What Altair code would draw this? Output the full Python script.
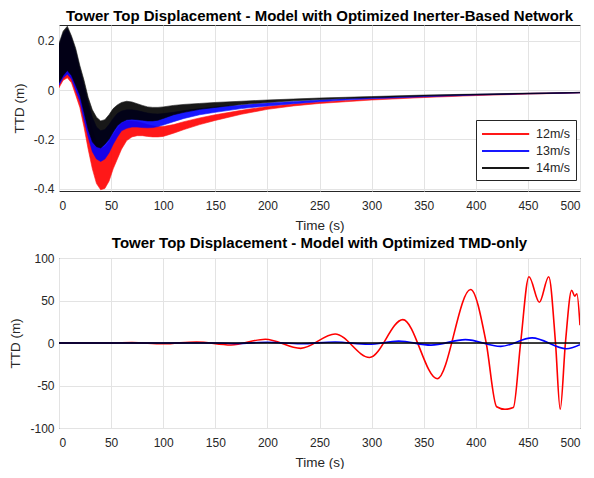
import altair as alt
import pandas as pd

FONT = "Liberation Sans"
SERIES = ["12m/s", "13m/s", "14m/s"]
COLORS = ["#ff0000", "#0000ff", "#000000"]

# ---- top panel: envelopes of the oscillating TTD (m) ----
T_TOP = [0, 4, 8, 12, 16, 20, 24, 28, 32, 36, 40, 44, 48, 52, 56, 60, 65, 70, 75, 80,
         85, 90, 95, 100, 110, 120, 135, 150, 175, 200, 225, 250, 275, 300, 350, 400, 450, 500]

UP_12 = [0.17, 0.22, 0.24, 0.20, 0.14, 0.07, 0.0, -0.08, -0.16, -0.21, -0.235, -0.23, -0.21, -0.18,
         -0.155, -0.135, -0.125, -0.125, -0.128, -0.133, -0.14, -0.145, -0.148, -0.148, -0.14, -0.128,
         -0.113, -0.10, -0.082, -0.066, -0.056, -0.048, -0.042, -0.036, -0.027, -0.019, -0.013, -0.009]
LO_12 = [0.01, 0.04, 0.05, 0.03, -0.02, -0.07, -0.15, -0.24, -0.32, -0.38, -0.405, -0.40, -0.37, -0.32,
         -0.28, -0.24, -0.205, -0.19, -0.185, -0.185, -0.188, -0.19, -0.19, -0.188, -0.175, -0.16,
         -0.14, -0.123, -0.098, -0.078, -0.064, -0.054, -0.047, -0.04, -0.03, -0.022, -0.016, -0.011]

UP_13 = [0.18, 0.23, 0.25, 0.21, 0.155, 0.085, 0.02, -0.05, -0.11, -0.15, -0.165, -0.16, -0.14, -0.115,
         -0.095, -0.085, -0.08, -0.08, -0.083, -0.088, -0.093, -0.096, -0.097, -0.095, -0.09, -0.083,
         -0.075, -0.068, -0.06, -0.052, -0.046, -0.04, -0.035, -0.03, -0.023, -0.017, -0.013, -0.009]
LO_13 = [0.02, 0.05, 0.065, 0.045, 0.0, -0.045, -0.12, -0.19, -0.25, -0.28, -0.29, -0.28, -0.255, -0.22,
         -0.19, -0.165, -0.155, -0.15, -0.15, -0.152, -0.153, -0.152, -0.148, -0.142, -0.128, -0.115,
         -0.10, -0.09, -0.075, -0.064, -0.055, -0.047, -0.04, -0.035, -0.027, -0.02, -0.015, -0.011]

UP_14 = [0.19, 0.24, 0.26, 0.22, 0.17, 0.10, 0.04, -0.03, -0.08, -0.11, -0.125, -0.12, -0.10, -0.075,
         -0.06, -0.05, -0.045, -0.048, -0.055, -0.062, -0.068, -0.07, -0.07, -0.068, -0.062, -0.058,
         -0.054, -0.05, -0.045, -0.04, -0.036, -0.032, -0.029, -0.026, -0.02, -0.016, -0.012, -0.009]
LO_14 = [0.03, 0.06, 0.08, 0.06, 0.02, -0.02, -0.09, -0.16, -0.21, -0.23, -0.235, -0.22, -0.20, -0.17,
         -0.145, -0.13, -0.12, -0.118, -0.12, -0.122, -0.125, -0.125, -0.122, -0.115, -0.10, -0.09,
         -0.078, -0.07, -0.058, -0.05, -0.043, -0.038, -0.034, -0.031, -0.024, -0.019, -0.015, -0.011]

# ---- bottom panel: TTD (m) with TMD-only ----
T_RED = [0, 50, 70, 100, 132, 165, 198, 232, 265, 298, 330, 363, 395, 410, 420, 428, 436, 443,
         451, 461, 470, 476.5, 481, 486, 492, 495, 497, 500]
V_RED = [0, 0, 0.5, -0.8, 1.2, -2.3, 4.5, -6.3, 10.6, -17, 27.5, -42, 63, 0, -75, -78, -76, 0,
         78, 48, 78, 0, -78, 0, 62, 55, 58, 21]
T_BLUE = [0, 150, 170, 200, 232, 265, 297, 326, 357, 390, 424, 454, 487, 500]
V_BLUE = [0, 0, -0.5, 0.8, -0.8, 1.2, -1.5, 2.2, -2.5, 4.0, -4.0, 6.0, -6.8, -2.0]
T_BLACK = [0, 100, 200, 300, 400, 500]
V_BLACK = [0, 0, 0, 0, 0, 0]

top_rows = []
for name, up, lo in zip(SERIES, [UP_12, UP_13, UP_14], [LO_12, LO_13, LO_14]):
    for t, u, l in zip(T_TOP, up, lo):
        top_rows.append({"t": t, "up": u, "lo": l, "s": name})
top_df = pd.DataFrame(top_rows)

bot_rows = []
for name, ts, vs in zip(SERIES, [T_RED, T_BLUE, T_BLACK], [V_RED, V_BLUE, V_BLACK]):
    for t, v in zip(ts, vs):
        bot_rows.append({"t": t, "v": v, "s": name})
bot_df = pd.DataFrame(bot_rows)

color_scale = alt.Scale(domain=SERIES, range=COLORS)
x_axis = alt.Axis(values=list(range(0, 501, 50)), title="Time (s)")

legend = alt.Legend(
    orient="none", legendX=417, legendY=95, title=None,
    symbolType="M-1,0H4.9", symbolSize=256, symbolStrokeWidth=2,
    fillColor="white", strokeColor="#262626",
    padding=5, labelFontSize=12.5, labelFont=FONT, labelColor="#262626",
    rowPadding=1, labelOffset=37)

top = alt.Chart(top_df).mark_area(clip=True, opacity=0.9, strokeWidth=0.6).encode(
    x=alt.X("t:Q", scale=alt.Scale(domain=[0, 500], nice=False), axis=x_axis),
    y=alt.Y("up:Q", scale=alt.Scale(domain=[-0.41, 0.265], nice=False, zero=False),
            axis=alt.Axis(values=[-0.4, -0.2, 0, 0.2], labelExpr="'' + datum.value", title="TTD (m)")),
    y2="lo:Q",
    fill=alt.Fill("s:N", scale=color_scale, legend=legend),
    stroke=alt.Stroke("s:N", scale=color_scale, legend=legend),
).properties(width=521, height=166,
             title="Tower Top Displacement - Model with Optimized Inerter-Based Network")

bottom = alt.Chart(bot_df).mark_line(interpolate="monotone", strokeWidth=1.6, clip=True).encode(
    x=alt.X("t:Q", scale=alt.Scale(domain=[0, 500], nice=False), axis=x_axis),
    y=alt.Y("v:Q", scale=alt.Scale(domain=[-100, 100], nice=False),
            axis=alt.Axis(values=[-100, -50, 0, 50, 100], labelExpr="'' + datum.value", title="TTD (m)")),
    color=alt.Color("s:N", scale=color_scale, legend=None),
    detail="s:N",
).properties(width=521, height=170,
             title="Tower Top Displacement - Model with Optimized TMD-only")

chart = alt.vconcat(top, bottom, spacing=3, background="white").resolve_scale(
    color="independent", fill="independent", stroke="independent"
).properties(
    padding={"left": 0, "top": 0, "right": 5, "bottom": 0}
).configure_view(stroke="#262626", strokeWidth=1).configure_axis(
    grid=True, gridColor="#e3e3e3", domain=False, ticks=False,
    labelFont=FONT, labelFontSize=12, labelColor="#262626", labelPadding=9,
    titleFont=FONT, titleFontSize=13.5, titleFontWeight="normal", titleColor="#262626",
    titlePadding=7,
).configure_axisY(titlePadding=7, labelPadding=5).configure_title(
    font=FONT, fontSize=15, fontWeight="bold", color="#000000", offset=1, anchor="middle"
)

chart.save("out.html", embed_options={"renderer": "svg", "actions": False})
